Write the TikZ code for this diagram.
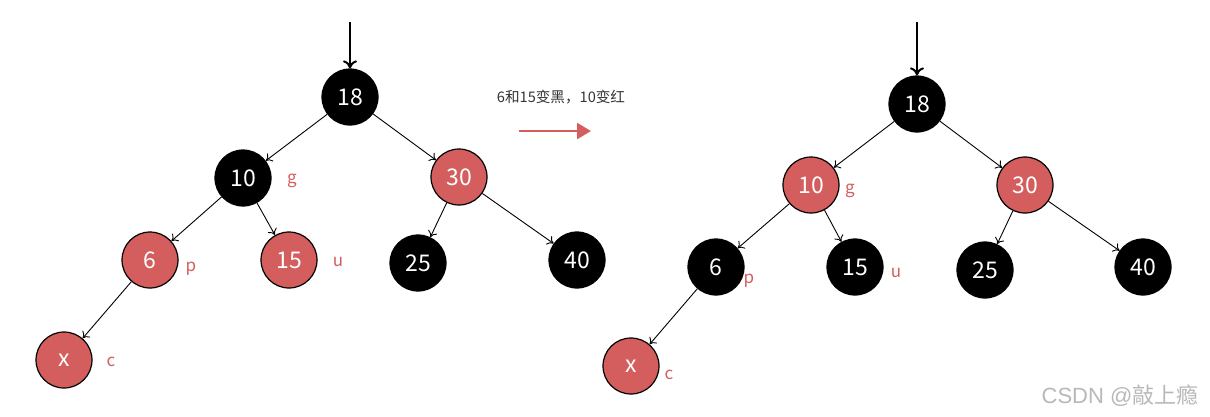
\documentclass[tikz,border=0pt]{standalone}
\usepackage{fontspec}
\setmainfont{Noto Sans CJK SC}
\newfontfamily\marksf{Liberation Sans}
\usetikzlibrary{arrows.meta}

\definecolor{rbred}{RGB}{212,94,94}

\tikzset{
  rbnode/.style={circle, draw=black, line width=1.2pt, minimum size=56pt, inner sep=0pt,
    text=white, font=\fontsize{23}{26}\selectfont},
  blk/.style={rbnode, fill=black},
  rd/.style={rbnode, fill=rbred},
  tag/.style={text=rbred, font=\fontsize{17}{20}\selectfont},
  edge/.style={line width=0.9pt, -{To[length=6pt,width=10pt]}},
  entry/.style={line width=2pt, -{To[length=8pt,width=14pt]}}
}

\begin{document}
\begin{tikzpicture}[x=1pt,y=-1pt]
  \useasboundingbox (0,0) rectangle (1210,416);

  % strom pred zmenou
  \node[blk] (a18) at (350,97)  {18};
  \node[blk] (a10) at (243,178) {10};
  \node[rd]  (a30) at (459,177) {30};
  \node[rd]  (a6)  at (150,260) {6};
  \node[rd]  (a15) at (289,260) {15};
  \node[blk] (a25) at (418,263) {25};
  \node[blk] (a40) at (577,260) {40};
  \node[rd]  (ax)  at (64,360)  {x};
  \coordinate (atop) at (350,22);

  \node[tag] (ag) at (292,181) {g};
  \node[tag] (ap) at (191,269) {p};
  \node[tag] (au) at (338,262) {u};
  \node[tag] (ac) at (111,362) {c};

  % strom po zmene
  \node[blk] (b18) at (917,104) {18};
  \node[rd]  (b10) at (811,185) {10};
  \node[rd]  (b30) at (1025,185) {30};
  \node[blk] (b6)  at (716,267) {6};
  \node[blk] (b15) at (855,267) {15};
  \node[blk] (b25) at (985,270) {25};
  \node[blk] (b40) at (1143,267) {40};
  \node[rd]  (bx)  at (631,366) {x};
  \coordinate (btop) at (917,22);

  \node[tag] (bg) at (850,191) {g};
  \node[tag] (bp) at (749,281) {p};
  \node[tag] (bu) at (896,273) {u};
  \node[tag] (bc) at (669,375) {c};

  % hrany
  \foreach \t in {a,b} {
    \draw[entry] (\t top) -- (\t18);
    \foreach \p/\c in {18/10, 18/30, 10/6, 10/15, 30/25, 30/40, 6/x}
      \draw[edge] (\t\p) -- (\t\c);
  }

  % prechod
  \node[font=\fontsize{14.6}{17}\selectfont, text=black!80] (note) at (561,97) {6和15变黑，10变红};
  \coordinate (s) at (519,131);
  \coordinate (e) at (591,131);
  \draw[rbred, line width=2.5pt, -{Triangle[length=14pt,width=16pt]}] (s) -- (e);

  % vodotlac
  \node[text=black!28, font=\fontsize{22}{26}\selectfont] (mark) at (1120,396) {{\marksf CSDN @}敲上瘾};

\end{tikzpicture}
\end{document}
